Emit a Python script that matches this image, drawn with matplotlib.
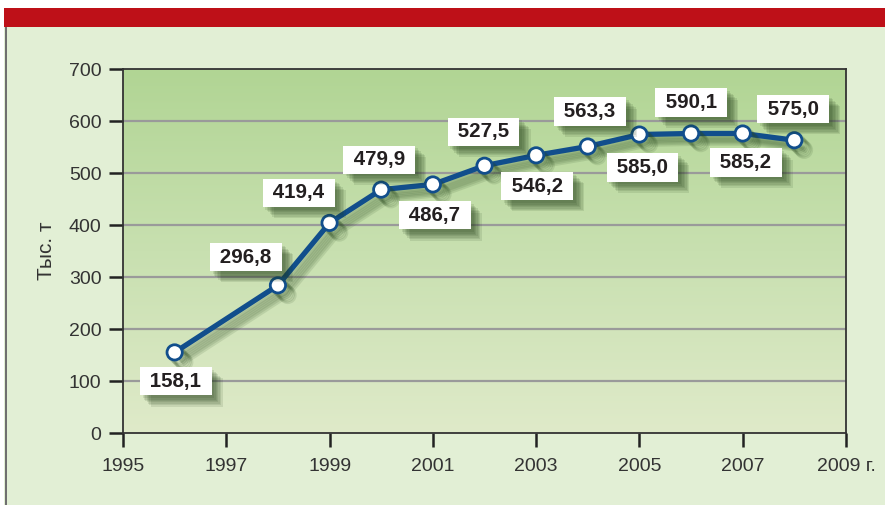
import matplotlib
matplotlib.use("Agg")
import numpy as np
import matplotlib.pyplot as plt
import matplotlib.patheffects as pe
from matplotlib.patches import Rectangle
from matplotlib.colors import LinearSegmentedColormap

# ===============================
# DATOS
# ===============================
years = [1996, 1998, 1999, 2000, 2001, 2002, 2003, 2004, 2005, 2006, 2007, 2008]
values = [155, 284, 404, 468, 478, 514, 534, 551, 574, 576, 576, 563]
labels = ["158,1", "296,8", "419,4", "479,9", "486,7", "527,5",
          "546,2", "563,3", "585,0", "590,1", "585,2", "575,0"]
yticks = [0, 100, 200, 300, 400, 500, 600, 700]
xticks = [1995, 1997, 1999, 2001, 2003, 2005, 2007, 2009]
xticklabels = ["1995", "1997", "1999", "2001", "2003", "2005", "2007", "2009 г."]

# desplazamiento de cada etiqueta respecto al punto (pixeles)
label_offsets = [(1, -29), (-32, 28), (-31, 30), (-2, 30), (2, -31), (-1, 34),
                 (1, -31), (2, 35), (3, -33), (0, 31), (3, -29), (-1, 31)]

plt.rcParams["font.family"] = ["Liberation Sans", "DejaVu Sans"]

W, H = 885, 505
fig = plt.figure(figsize=(W / 100, H / 100), dpi=100, facecolor="white")

# marco exterior
fig.patches.append(Rectangle((4 / W, 0), 1, (H - 27) / H, transform=fig.transFigure,
                             fc="#e2efd5", ec="none", zorder=-10))
fig.patches.append(Rectangle((4 / W, (H - 27) / H), 1, 19 / H, transform=fig.transFigure,
                             fc="#be1018", ec="none", zorder=-9))
fig.patches.append(Rectangle((5 / W, 0), 2 / W, (H - 27) / H, transform=fig.transFigure,
                             fc="#6f6f6f", ec="none", zorder=-8))

ax = fig.add_axes([123 / W, (H - 433) / H, (846 - 123) / W, (433 - 69) / H])
ax.set_facecolor("none")

# fondo degradado
cmap = LinearSegmentedColormap.from_list("bg", ["#dfeac9", "#c8e0b0", "#b1d594"])
ax.imshow(np.linspace(0, 1, 256).reshape(-1, 1), extent=[0, 1, 0, 1],
          transform=ax.transAxes, cmap=cmap, aspect="auto", origin="lower", zorder=0)

ax.set_xlim(1995, 2009)
ax.set_ylim(0, 700)

for v in yticks[1:-1]:
    ax.axhline(v, color="#9a9a9a", lw=1.6, zorder=1)

shadow_line = [pe.SimpleLineShadow(offset=(o, -o), shadow_color="#2a4a20", alpha=0.12)
               for o in (2, 3, 4, 5, 6, 7)]
ax.plot(years, values, color="#114e8c", lw=3.8, zorder=3,
        marker="o", markersize=11, markerfacecolor="white",
        markeredgecolor="#114e8c", markeredgewidth=2,
        path_effects=shadow_line + [pe.Normal()])

for x, y, txt, (dx, dy) in zip(years, values, labels, label_offsets):
    ann = ax.annotate(" " + txt + " ", xy=(x, y), xytext=(dx, dy),
                      textcoords="offset pixels", ha="center", va="center",
                      fontsize=14.8, fontweight="bold", color="#231f20", zorder=5,
                      bbox=dict(boxstyle="square,pad=0.22", fc="white", ec="none"))
    ann.get_bbox_patch().set_path_effects(
        [pe.SimplePatchShadow(offset=(o, -o), shadow_rgbFace="#1f3a15", alpha=0.11)
         for o in (2, 3, 4, 5, 6, 7, 8)] + [pe.Normal()])

ax.set_yticks(yticks)
ax.set_xticks(xticks)
ax.set_xticklabels(xticklabels)
ax.tick_params(axis="both", direction="out", length=10, width=1.8, color="#222222",
               labelsize=14, labelcolor="#333333")
ax.tick_params(axis="y", pad=5.5)
ax.tick_params(axis="x", pad=8)
for s in ax.spines.values():
    s.set_color("#333333")
    s.set_linewidth(1.3)
    s.set_zorder(4)

ax.set_ylabel("Тыс. т", fontsize=15, color="#333333", labelpad=9)

fig.savefig("out.png", dpi=100, facecolor=fig.get_facecolor())
